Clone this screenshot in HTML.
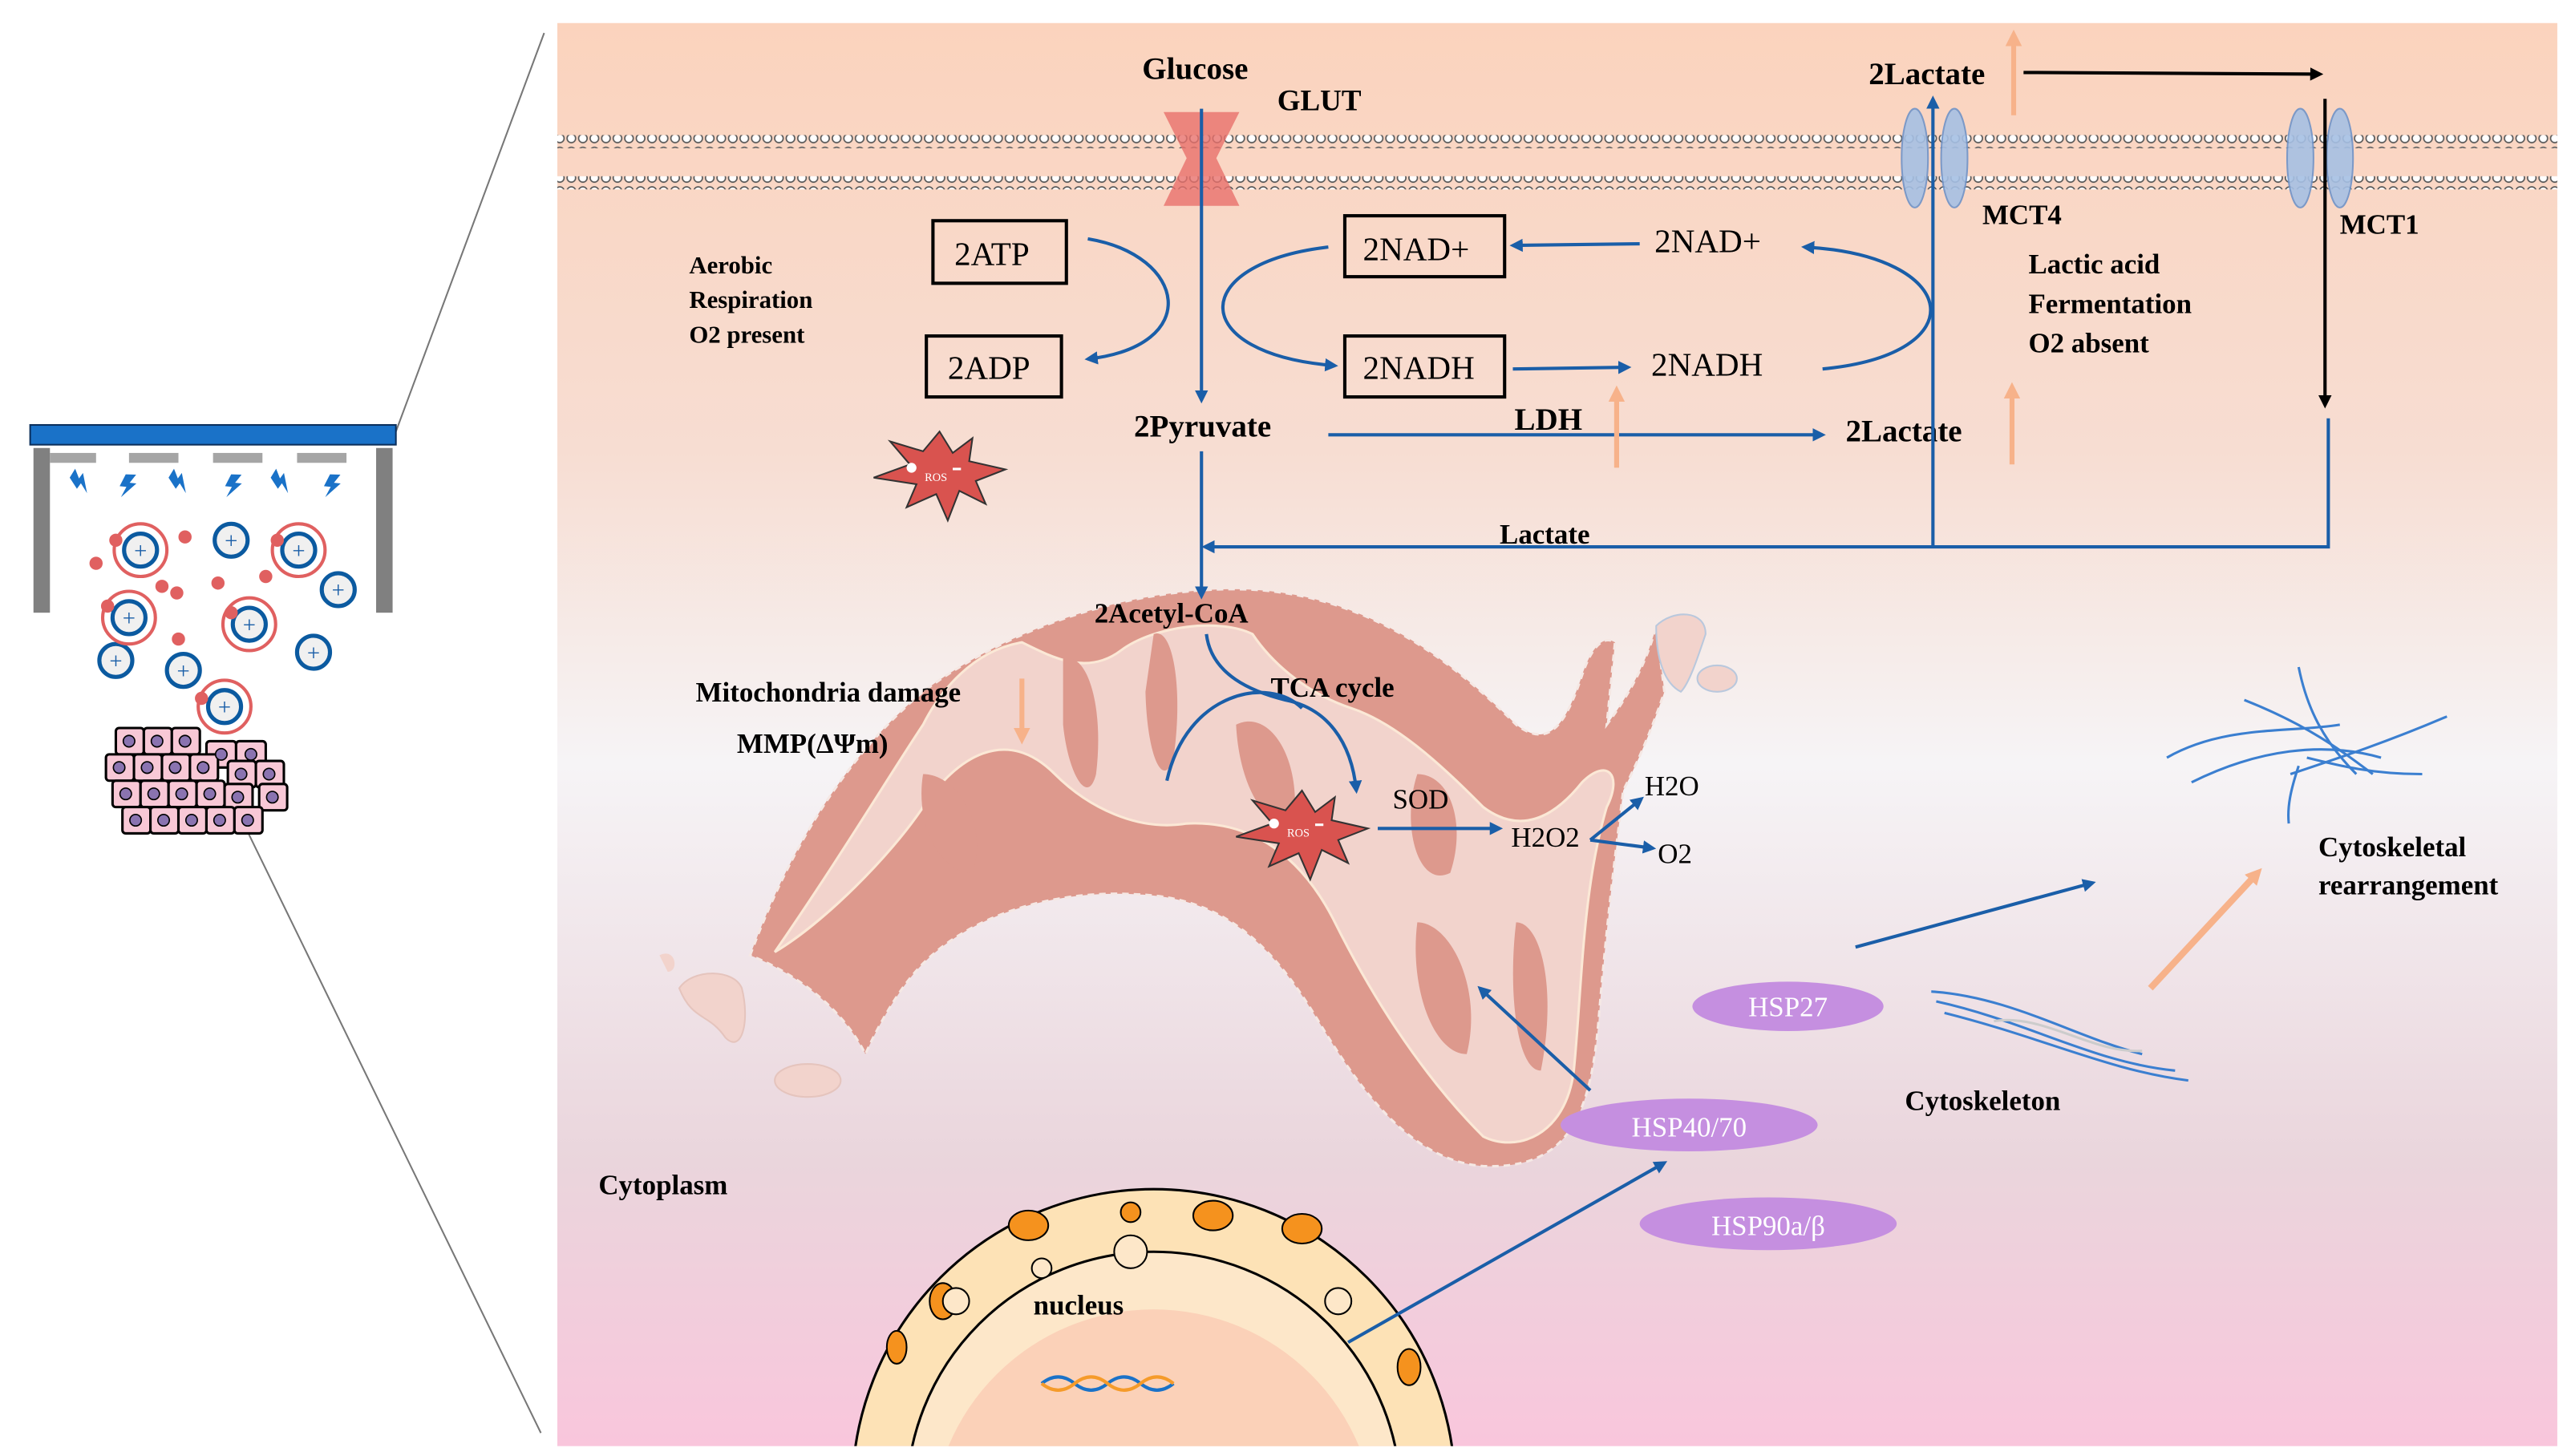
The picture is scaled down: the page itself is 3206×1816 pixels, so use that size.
<!DOCTYPE html>
<html><head><meta charset="utf-8"><style>
html,body{margin:0;padding:0;background:#fff;width:3206px;height:1816px;overflow:hidden}
svg{display:block}
text{font-family:"Liberation Serif",serif}
.b{font-weight:bold}
</style></head><body>
<svg width="3206" height="1816" viewBox="0 0 1560 884" xmlns="http://www.w3.org/2000/svg">
<defs>
<linearGradient id="bg" x1="0" y1="0" x2="0" y2="1">
<stop offset="0" stop-color="#fbd3bd"/>
<stop offset="0.3" stop-color="#f7ddd2"/>
<stop offset="0.52" stop-color="#f6f4f6"/>
<stop offset="0.8" stop-color="#ead5dc"/>
<stop offset="1" stop-color="#f9c6dc"/>
</linearGradient>
<marker id="ab" markerWidth="8" markerHeight="8" refX="6" refY="4" orient="auto" markerUnits="userSpaceOnUse"><path d="M0,0 L8,4 L0,8z" fill="#1a5ea8"/></marker>
<marker id="ak" markerWidth="8" markerHeight="8" refX="6" refY="4" orient="auto" markerUnits="userSpaceOnUse"><path d="M0,0 L8,4 L0,8z" fill="#000"/></marker>
<marker id="ao" markerWidth="10" markerHeight="10" refX="6" refY="5" orient="auto" markerUnits="userSpaceOnUse"><path d="M0,0 L10,5 L0,10z" fill="#f7b28a"/></marker>
<pattern id="mem" width="7" height="8" patternUnits="userSpaceOnUse"><circle cx="3.5" cy="4" r="2.6" fill="#fff" stroke="#555" stroke-width="0.8"/></pattern>
<path id="bolt" d="M0,0 L6,-2 L4,4 L8,3 L2,14 L3,7 L-1,8 Z" fill="#1a72c8"/>
</defs>
<rect x="338" y="14" width="1214" height="864" fill="url(#bg)"/>
<line x1="240" y1="262" x2="330" y2="20" stroke="#777" stroke-width="1"/>
<line x1="150" y1="505" x2="328" y2="870" stroke="#777" stroke-width="1"/>
<!-- membrane -->
<rect x="338" y="82" width="1214" height="8" fill="url(#mem)"/>
<rect x="338" y="107" width="1214" height="8" fill="url(#mem)"/>
<!-- left device -->
<rect x="18" y="258" width="222" height="12" fill="#1a72c8" stroke="#0b2f5c"/>
<rect x="20" y="272" width="10" height="100" fill="#808080"/>
<rect x="228" y="272" width="10" height="100" fill="#808080"/>
<g fill="#a5a5a5"><rect x="30" y="275" width="28" height="6"/><rect x="78" y="275" width="30" height="6"/><rect x="129" y="275" width="30" height="6"/><rect x="180" y="275" width="30" height="6"/></g>
<use href="#bolt" transform="translate(42,290) rotate(-40)"/>
<use href="#bolt" transform="translate(76,288) rotate(20)"/>
<use href="#bolt" transform="translate(102,290) rotate(-40)"/>
<use href="#bolt" transform="translate(140,288) rotate(20)"/>
<use href="#bolt" transform="translate(164,290) rotate(-40)"/>
<use href="#bolt" transform="translate(200,288) rotate(20)"/>
<g fill="#f0f0f0" stroke="#0b5aa0" stroke-width="2.5">
<circle cx="85" cy="334" r="10"/><circle cx="140" cy="328" r="10"/><circle cx="181" cy="334" r="10"/><circle cx="78" cy="375" r="10"/><circle cx="151" cy="379" r="10"/><circle cx="70" cy="401" r="10"/><circle cx="111" cy="407" r="10"/><circle cx="205" cy="358" r="10"/><circle cx="190" cy="396" r="10"/><circle cx="136" cy="429" r="10"/></g>
<g fill="none" stroke="#e06060" stroke-width="2"><circle cx="85" cy="334" r="16"/><circle cx="181" cy="334" r="16"/><circle cx="78" cy="375" r="16"/><circle cx="151" cy="379" r="16"/><circle cx="136" cy="429" r="16"/></g>
<g font-size="14" fill="#1a5ea8" text-anchor="middle" font-family="Liberation Sans"><text x="85" y="339">+</text><text x="140" y="333">+</text><text x="181" y="339">+</text><text x="78" y="380">+</text><text x="151" y="384">+</text><text x="70" y="406">+</text><text x="111" y="412">+</text><text x="205" y="363">+</text><text x="190" y="401">+</text><text x="136" y="434">+</text></g>
<g fill="#e06060"><circle cx="58" cy="342" r="4"/><circle cx="112" cy="326" r="4"/><circle cx="98" cy="356" r="4"/><circle cx="107" cy="360" r="4"/><circle cx="132" cy="354" r="4"/><circle cx="161" cy="350" r="4"/><circle cx="108" cy="388" r="4"/><circle cx="70" cy="328" r="4"/><circle cx="168" cy="328" r="4"/><circle cx="65" cy="368" r="4"/><circle cx="140" cy="372" r="4"/><circle cx="122" cy="424" r="4"/></g>
<g stroke="#000" stroke-width="1.5" fill="#f8c8d6">
<rect x="70" y="442" width="17" height="16" rx="2"/><rect x="87" y="442" width="17" height="16" rx="2"/><rect x="104" y="442" width="17" height="16" rx="2"/><rect x="125" y="450" width="18" height="16" rx="2"/><rect x="143" y="450" width="18" height="16" rx="2"/>
<rect x="64" y="458" width="17" height="16" rx="2"/><rect x="81" y="458" width="17" height="16" rx="2"/><rect x="98" y="458" width="17" height="16" rx="2"/><rect x="115" y="458" width="17" height="16" rx="2"/><rect x="138" y="462" width="17" height="16" rx="2"/><rect x="155" y="462" width="17" height="16" rx="2"/>
<rect x="68" y="474" width="17" height="16" rx="2"/><rect x="85" y="474" width="17" height="16" rx="2"/><rect x="102" y="474" width="17" height="16" rx="2"/><rect x="119" y="474" width="17" height="16" rx="2"/><rect x="136" y="476" width="17" height="16" rx="2"/><rect x="157" y="476" width="17" height="16" rx="2"/>
<rect x="74" y="490" width="17" height="16" rx="2"/><rect x="91" y="490" width="17" height="16" rx="2"/><rect x="108" y="490" width="17" height="16" rx="2"/><rect x="125" y="490" width="17" height="16" rx="2"/><rect x="142" y="490" width="17" height="16" rx="2"/></g>
<g fill="#8a73b0" stroke="#000" stroke-width="0.8">
<circle cx="78" cy="450" r="3.5"/><circle cx="95" cy="450" r="3.5"/><circle cx="112" cy="450" r="3.5"/><circle cx="134" cy="458" r="3.5"/><circle cx="152" cy="458" r="3.5"/><circle cx="72" cy="466" r="3.5"/><circle cx="89" cy="466" r="3.5"/><circle cx="106" cy="466" r="3.5"/><circle cx="123" cy="466" r="3.5"/><circle cx="146" cy="470" r="3.5"/><circle cx="163" cy="470" r="3.5"/><circle cx="76" cy="482" r="3.5"/><circle cx="93" cy="482" r="3.5"/><circle cx="110" cy="482" r="3.5"/><circle cx="127" cy="482" r="3.5"/><circle cx="144" cy="484" r="3.5"/><circle cx="165" cy="484" r="3.5"/><circle cx="82" cy="498" r="3.5"/><circle cx="99" cy="498" r="3.5"/><circle cx="116" cy="498" r="3.5"/><circle cx="133" cy="498" r="3.5"/><circle cx="150" cy="498" r="3.5"/></g>
<!-- mitochondria -->
<path d="M455,580 C470,540 500,470 560,420 C620,375 700,355 760,358 C830,362 880,400 920,440 C940,455 950,440 960,410 C965,395 972,385 980,390 L975,440 C990,420 1000,400 1005,380 L1010,420 C1000,450 990,470 985,480 C980,520 975,560 970,620 C965,680 950,710 900,708 C860,705 830,670 800,620 C770,570 740,545 690,543 C640,540 590,555 560,585 C540,605 525,640 525,640 C510,610 480,590 455,580 Z" fill="#dd998d" stroke="#f5e8e4" stroke-width="1.5" stroke-dasharray="4 3"/>
<g fill="#f2d3cc" stroke="#fbe8d6" stroke-width="1.5">
<path d="M470,578 C500,560 540,520 560,490 C580,460 610,440 640,470 C660,490 690,505 720,500 C760,498 790,520 810,560 C830,600 860,650 900,690 C920,700 950,690 955,650 C960,600 960,540 975,490 C985,470 975,460 960,475 C940,500 920,505 900,490 C880,470 850,440 820,430 C790,420 770,400 760,385 C740,375 700,380 680,395 C660,410 640,400 620,390 C590,395 570,420 560,440 C540,470 510,520 470,578 Z"/>
</g>
<g fill="#dd998d">
<path d="M645,400 C660,395 670,430 665,470 C660,490 648,470 645,440 Z"/>
<path d="M700,385 C712,380 718,420 712,460 C706,480 696,460 695,420 Z"/>
<path d="M750,440 C770,430 790,460 785,500 C770,505 752,480 750,440 Z"/>
<path d="M860,470 C880,470 890,500 880,530 C860,540 850,500 860,470 Z"/>
<path d="M860,560 C880,560 900,600 890,640 C870,640 855,600 860,560 Z"/>
<path d="M920,560 C935,560 945,600 935,650 C920,650 915,600 920,560 Z"/>
<path d="M560,470 C580,470 600,500 590,530 C570,530 555,500 560,470 Z"/>
</g>
<path d="M1005,380 C1015,370 1035,370 1035,385 C1030,400 1025,415 1020,420 C1010,415 1005,400 1005,380 Z" fill="#f2d3cc" stroke="#b9c8dd"/>
<ellipse cx="1042" cy="412" rx="12" ry="8" fill="#f2d3cc" stroke="#b9c8dd"/>
<path d="M400,580 C410,575 412,590 405,590 Z" fill="#f2d3cc"/>
<path d="M412,600 C420,588 445,588 450,600 C455,620 450,640 440,630 C430,615 420,620 412,600 Z" fill="#f2d3cc" stroke="#e5c4bd"/>
<ellipse cx="490" cy="656" rx="20" ry="10" fill="#f2d3cc" stroke="#e5c4bd"/>
<!-- nucleus -->
<clipPath id="cp"><rect x="338" y="14" width="1214" height="864"/></clipPath>
<g clip-path="url(#cp)">
<circle cx="700" cy="905" r="183" fill="#fde2b6" stroke="#000" stroke-width="1.5"/>
<circle cx="700" cy="910" r="150" fill="#fde7c9" stroke="#000" stroke-width="1.5"/>
<circle cx="700" cy="930" r="135" fill="#fbd1b8"/>
<g fill="#f5921e" stroke="#000"><ellipse cx="624" cy="744" rx="12" ry="9"/><ellipse cx="736" cy="738" rx="12" ry="9"/><ellipse cx="790" cy="746" rx="12" ry="9"/><ellipse cx="572" cy="790" rx="8" ry="11"/><ellipse cx="544" cy="818" rx="6" ry="10"/><ellipse cx="855" cy="830" rx="7" ry="11"/><ellipse cx="686" cy="736" rx="6" ry="6"/></g>
<g fill="#fde7c9" stroke="#000"><circle cx="686" cy="760" r="10"/><circle cx="580" cy="790" r="8"/><circle cx="812" cy="790" r="8"/><circle cx="632" cy="770" r="6"/></g>
</g>
<path d="M632,840 q10,-8 20,0 t20,0 t20,0 t20,0" fill="none" stroke="#1a72c8" stroke-width="2"/>
<path d="M632,840 q10,8 20,0 t20,0 t20,0 t20,0" fill="none" stroke="#f59b2a" stroke-width="2"/>
<!-- GLUT -->
<path d="M706,68 L752,68 L738,96 L752,125 L706,125 L720,96 Z" fill="#e8706c" opacity="0.8"/>
<!-- MCT -->
<g fill="#a6c0e4" stroke="#6f93c8" opacity="0.9">
<ellipse cx="1162" cy="96" rx="8" ry="30"/><ellipse cx="1186" cy="96" rx="8" ry="30"/><ellipse cx="1396" cy="96" rx="8" ry="30"/><ellipse cx="1420" cy="96" rx="8" ry="30"/></g>
<!-- boxes -->
<g fill="none" stroke="#000" stroke-width="2"><rect x="566" y="134" width="81" height="38"/><rect x="562" y="204" width="82" height="37"/><rect x="816" y="131" width="97" height="37"/><rect x="816" y="204" width="97" height="37"/></g>
<g font-size="20" fill="#000"><text x="579" y="161">2ATP</text><text x="575" y="230">2ADP</text><text x="827" y="158">2NAD+</text><text x="827" y="230">2NADH</text><text x="1004" y="153">2NAD+</text><text x="1002" y="228">2NADH</text></g>
<g class="b" font-size="19"><text x="693" y="48">Glucose</text><text x="775" y="67" font-size="18">GLUT</text><text x="1134" y="51">2Lactate</text><text x="688" y="265">2Pyruvate</text><text x="1120" y="268">2Lactate</text><text x="919" y="261">LDH</text></g>
<g class="b" font-size="17"><text x="1203" y="136">MCT4</text><text x="1420" y="142">MCT1</text><text x="910" y="330">Lactate</text><text x="664" y="378">2Acetyl-CoA</text><text x="771" y="423">TCA cycle</text><text x="422" y="426">Mitochondria damage</text><text x="447" y="457">MMP(ΔΨm)</text><text x="363" y="725">Cytoplasm</text><text x="627" y="798">nucleus</text><text x="1156" y="674">Cytoskeleton</text><text x="1407" y="520">Cytoskeletal</text><text x="1407" y="543">rearrangement</text></g>
<g class="b" font-size="15"><text x="418" y="166">Aerobic</text><text x="418" y="187">Respiration</text><text x="418" y="208">O2 present</text></g>
<g class="b" font-size="17"><text x="1231" y="166">Lactic acid</text><text x="1231" y="190">Fermentation</text><text x="1231" y="214">O2 absent</text></g>
<g font-size="17"><text x="845" y="491">SOD</text><text x="917" y="514">H2O2</text><text x="998" y="483">H2O</text><text x="1006" y="524">O2</text></g>
<!-- arrows blue -->
<g fill="none" stroke="#1a5ea8" stroke-width="2">
<line x1="729" y1="66" x2="729" y2="243" marker-end="url(#ab)"/>
<path d="M660,145 C720,155 730,210 660,218" marker-end="url(#ab)"/>
<path d="M806,150 C720,160 720,215 810,222" marker-end="url(#ab)"/>
<line x1="995" y1="148" x2="918" y2="149" marker-end="url(#ab)"/>
<line x1="918" y1="224" x2="988" y2="223" marker-end="url(#ab)"/>
<path d="M1106,224 C1200,215 1190,155 1095,150" marker-end="url(#ab)"/>
<line x1="806" y1="264" x2="1106" y2="264" marker-end="url(#ab)"/>
<line x1="1173" y1="332" x2="1173" y2="60" marker-end="url(#ab)"/>
<polyline points="1413,254 1413,332 731,332" marker-end="url(#ab)"/>
<line x1="729" y1="274" x2="729" y2="362" marker-end="url(#ab)"/>
<path d="M732,385 C735,410 760,420 780,425 C805,430 820,450 823,480" marker-end="url(#ab)"/>
<path d="M708,474 C720,420 770,410 790,430"/>
<line x1="836" y1="503" x2="910" y2="503" marker-end="url(#ab)"/>
<line x1="965" y1="510" x2="996" y2="485" marker-end="url(#ab)"/>
<line x1="965" y1="510" x2="1003" y2="515" marker-end="url(#ab)"/>
<line x1="1126" y1="575" x2="1270" y2="536" marker-end="url(#ab)"/>
<line x1="965" y1="662" x2="898" y2="600" marker-end="url(#ab)"/>
<line x1="818" y1="815" x2="1010" y2="706" marker-end="url(#ab)"/>
</g>
<g fill="none" stroke="#000" stroke-width="2"><line x1="1228" y1="44" x2="1408" y2="45" marker-end="url(#ak)"/><line x1="1411" y1="60" x2="1411" y2="246" marker-end="url(#ak)"/></g>
<g stroke="#f7b28a" stroke-width="3" fill="none"><line x1="1222" y1="70" x2="1222" y2="22" marker-end="url(#ao)"/><line x1="981" y1="284" x2="981" y2="238" marker-end="url(#ao)"/><line x1="1221" y1="282" x2="1221" y2="236" marker-end="url(#ao)"/><line x1="620" y1="412" x2="620" y2="448" marker-end="url(#ao)"/><line x1="1305" y1="600" x2="1370" y2="530" marker-end="url(#ao)" stroke-width="4"/></g>
<!-- ROS stars -->
<g>
<polygon points="570,262 578,275 590,266 588,280 610,285 592,292 598,306 582,298 575,316 568,300 550,308 556,294 530,290 552,282 540,268 560,274" fill="#d9534f" stroke="#333"/>
<circle cx="553" cy="284" r="3" fill="#fff"/><text x="561" y="292" font-size="7" fill="#fff" font-family="Liberation Sans">ROS</text><rect x="578" y="284" width="5" height="1.5" fill="#fff"/>
<polygon points="790,480 798,493 810,484 808,498 830,503 812,510 818,524 802,516 795,534 788,518 770,526 776,512 750,508 772,500 760,486 780,492" fill="#d9534f" stroke="#333"/>
<circle cx="773" cy="500" r="3" fill="#fff"/><text x="781" y="508" font-size="7" fill="#fff" font-family="Liberation Sans">ROS</text><rect x="798" y="500" width="5" height="1.5" fill="#fff"/>
</g>
<!-- HSP -->
<g fill="#c58fe0"><ellipse cx="1085" cy="611" rx="58" ry="15"/><ellipse cx="1025" cy="683" rx="78" ry="16"/><ellipse cx="1073" cy="743" rx="78" ry="16"/></g>
<g fill="#fff" font-size="17" font-family="Liberation Sans" text-anchor="middle"><text x="1085" y="617">HSP27</text><text x="1025" y="690">HSP40/70</text><text x="1073" y="750">HSP90a/β</text></g>
<!-- cytoskeleton -->
<g fill="none" stroke="#3b7fd0" stroke-width="1.5">
<path d="M1172,602 C1220,605 1260,630 1300,640"/><path d="M1175,608 C1230,620 1270,645 1320,650"/><path d="M1180,615 C1240,630 1280,650 1328,656"/><path d="M1210,620 C1240,615 1270,640 1300,638" stroke="#ccc"/>
<path d="M1315,460 C1350,440 1390,445 1420,440"/><path d="M1330,475 C1370,455 1410,450 1445,460"/><path d="M1362,425 C1400,440 1420,455 1440,470"/><path d="M1395,405 C1400,430 1410,450 1430,470"/><path d="M1485,435 C1450,450 1420,460 1390,470"/><path d="M1395,465 C1390,480 1388,490 1389,500"/><path d="M1470,470 C1440,470 1420,465 1400,460"/>
</g>
</svg>
</body></html>
